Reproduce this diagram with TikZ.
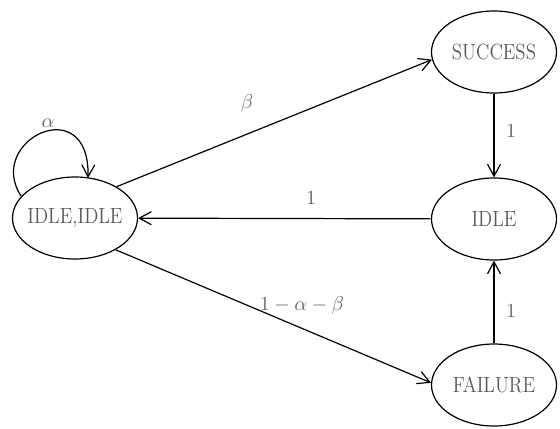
\documentclass[tikz,border=0pt]{standalone}
\usetikzlibrary{shapes.geometric,arrows.meta}
\newcommand{\stt}[1]{\makebox[0pt]{\scalebox{0.86}[1]{#1}}}
\begin{document}
\begin{tikzpicture}[x=0.5pt,y=-0.5pt,
  st/.style={draw,ellipse,line width=0.6pt,minimum width=62.5pt,minimum height=41pt,inner sep=0pt,text=black!65,font=\fontsize{11}{13}\selectfont},
  arr/.style={line width=0.6pt,-{Straight Barb[length=6pt,width=6.5pt,line width=0.6pt]}},
  lab/.style={text=black!60,font=\fontsize{10}{12}\selectfont,inner sep=0pt}]
\useasboundingbox (0,0) rectangle (560,428);
\node[st] (ii) at (75,218) {\stt{IDLE,IDLE}};
\node[st] (s) at (494,52) {\stt{SUCCESS}};
\node[st] (i) at (494,219) {\stt{IDLE}};
\node[st] (f) at (494,385) {\stt{FAILURE}};
\draw[arr] (s) -- (i);
\draw[arr] (f) -- (i);
\draw[arr] (i) -- (ii);
\draw[arr] (ii.37) -- (s.187);
\draw[arr] (ii.-38) -- (f.178);
\coordinate (ls) at (21,196);
\coordinate (le) at (88,178);
\draw[arr] (ls) .. controls (-15,140) and (90,90) .. (le);
\node[lab] (la) at (48,123) {$\alpha$};
\node[lab] (lb) at (247,103) {$\beta$};
\node[lab] (l1) at (511,131) {$1$};
\node[lab] (l2) at (311,198) {$1$};
\node[lab] (l3) at (511,311) {$1$};
\node[lab] (l4) at (302,305) {$1-\alpha-\beta$};
\end{tikzpicture}
\end{document}
